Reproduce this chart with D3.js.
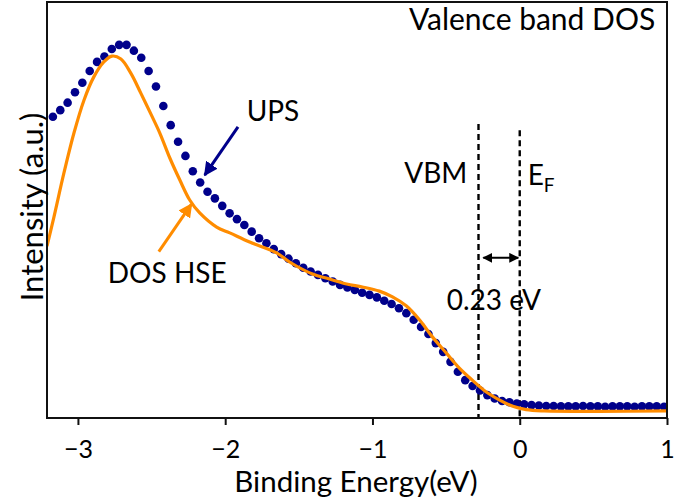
<!DOCTYPE html>
<html>
<head>
<meta charset="utf-8">
<script src="https://cdn.jsdelivr.net/npm/d3@7"></script>
<style>
  html, body { margin: 0; padding: 0; background: #fff; }
  svg { display: block; font-family: Lato, "Open Sans", sans-serif; }
</style>
</head>
<body>
<svg id="chart" width="675" height="501"></svg>
<script>
// ---------- DATA ----------
// UPS measured points: binding energy (eV), starting value and step
const upsStart = -3.17;
const upsStep = 0.05;
const upsIntensity = [
  72.4, 74.0, 75.8, 78.3, 80.6, 83.4, 85.6, 86.9, 88.7, 89.7,
  89.7, 88.3, 86.6, 83.4, 79.7, 75.0, 70.4, 66.4, 63.0, 59.3,
  56.6, 54.4, 52.8, 51.0, 49.2, 47.8, 46.4, 44.8, 43.2, 42.0,
  40.6, 39.4, 38.3, 37.2, 36.1, 35.2, 34.4, 33.6, 32.8, 32.0,
  31.4, 30.8, 30.1, 29.6, 29.0, 28.2, 27.4, 26.4, 25.2, 23.6,
  21.9, 20.2, 18.0, 15.9, 13.5, 11.1, 9.1, 7.7, 6.6, 5.5,
  4.7, 4.1, 3.8, 3.5, 3.3, 3.1, 3.0, 2.9, 2.9, 2.8,
  2.8, 2.8, 2.9, 2.8, 2.8, 2.7, 2.8, 2.8, 2.8, 2.7,
  2.8, 2.8, 2.8, 2.7
];
const upsEnergy = upsIntensity.map((_, i) => +(upsStart + i * upsStep).toFixed(2));

// DOS HSE calculated curve
const dosEnergy = [
  -3.21, -3.163, -3.095, -3.027, -2.959, -2.892, -2.824, -2.769, -2.708, -2.641,
  -2.573, -2.505, -2.444, -2.376, -2.308, -2.241, -2.173, -2.058, -1.969, -1.834,
  -1.651, -1.563, -1.407, -1.292, -1.176, -1.068, -0.953, -0.864, -0.769, -0.681,
  -0.593, -0.498, -0.410, -0.322, -0.227, -0.136, -0.047, 0.044, 0.166, 0.539, 1.0
];
const dosIntensity = [
  41.3, 48.3, 58.9, 68.5, 76.4, 82.0, 85.6, 87.0, 86.3, 82.9,
  78.1, 73.1, 68.5, 62.5, 57.2, 52.4, 49.3, 45.9, 44.5, 42.3,
  39.7, 37.5, 34.6, 33.4, 32.2, 31.5, 30.5, 29.1, 26.9, 23.6,
  19.5, 15.6, 12.0, 9.1, 6.25, 4.3, 2.8, 2.0, 1.7, 1.6, 1.7
];

const xTicks = [-3, -2, -1, 0, 1];
const xDomain = [-3.21, 1.0];
const yDomain = [0, 100];
const vbmEnergy = -0.28;
const efEnergy = 0;
const gapLabel = "0.23 eV";

// ---------- LAYOUT ----------
const W = 675, H = 501;
const m = { left: 47, right: 8, top: 2, bottom: 83 };
const svg = d3.select("#chart");
const x = d3.scaleLinear().domain(xDomain).range([m.left, W - m.right]);
const y = d3.scaleLinear().domain(yDomain).range([H - m.bottom, m.top]);

const navy = "#00008B";
const orange = "#FF8C00";

svg.append("defs").append("clipPath").attr("id", "clip")
  .append("rect").attr("x", m.left).attr("y", m.top)
  .attr("width", W - m.left - m.right).attr("height", H - m.top - m.bottom);

const defs = svg.select("defs");
function marker(id, color, w, h) {
  defs.append("marker").attr("id", id)
    .attr("viewBox", "0 0 10 10").attr("refX", 9).attr("refY", 5)
    .attr("markerWidth", w).attr("markerHeight", h)
    .attr("markerUnits", "userSpaceOnUse")
    .attr("orient", "auto-start-reverse")
    .append("path").attr("d", "M0,0 L10,5 L0,10 Z").attr("fill", color);
}
marker("arrNavy", navy, 14, 14);
marker("arrOrange", orange, 14, 14);
marker("arrBlack", "#000", 10, 10);

const plot = svg.append("g").attr("clip-path", "url(#clip)");

// dashed lines
[[vbmEnergy, 70.7], [efEnergy, 69.2]].forEach(([e, top]) => {
  plot.append("line")
    .attr("x1", x(e)).attr("x2", x(e))
    .attr("y1", y(top)).attr("y2", y(0))
    .attr("stroke", "#000").attr("stroke-width", 2.4)
    .attr("stroke-dasharray", "6,4");
});

// UPS dots
plot.selectAll("circle.ups").data(upsEnergy).join("circle")
  .attr("class", "ups")
  .attr("cx", (d) => x(d))
  .attr("cy", (d, i) => y(upsIntensity[i]))
  .attr("r", 4.3)
  .attr("fill", navy);

// DOS line
const line = d3.line().x((d) => x(d[0])).y((d) => y(d[1])).curve(d3.curveCatmullRom.alpha(0.5));
plot.append("path")
  .datum(dosEnergy.map((e, i) => [e, dosIntensity[i]]))
  .attr("d", line)
  .attr("fill", "none").attr("stroke", orange).attr("stroke-width", 3.2);

// frame
svg.append("rect")
  .attr("x", m.left).attr("y", m.top)
  .attr("width", W - m.left - m.right).attr("height", H - m.top - m.bottom)
  .attr("fill", "none").attr("stroke", "#111").attr("stroke-width", 2);

// x axis
const xAxis = svg.append("g")
  .attr("transform", `translate(0,${H - m.bottom})`)
  .call(d3.axisBottom(x).tickValues(xTicks).tickSize(7).tickPadding(15)
    .tickFormat((d) => d3.format("d")(d).replace("-", "\u2212")));
xAxis.select(".domain").remove();
xAxis.selectAll(".tick line").attr("stroke", "#111").attr("stroke-width", 2);
xAxis.selectAll(".tick text").attr("font-size", 25).attr("fill", "#000")
  .attr("font-family", "Lato, sans-serif");

// axis titles
svg.append("text")
  .attr("x", 356).attr("y", 492)
  .attr("text-anchor", "middle").attr("font-size", 29.5)
  .text("Binding Energy(eV)");
svg.append("text")
  .attr("transform", `translate(43,207) rotate(-90)`)
  .attr("text-anchor", "middle").attr("font-size", 31)
  .text("Intensity (a.u.)");

// annotations
svg.append("text").attr("x", x(0.92)).attr("y", y(93.3))
  .attr("text-anchor", "end").attr("font-size", 30).text("Valence band DOS");

svg.append("text").attr("x", x(-1.854)).attr("y", y(71.4))
  .attr("font-size", 28).text("UPS");
svg.append("line")
  .attr("x1", x(-1.913)).attr("y1", y(70.0))
  .attr("x2", x(-2.139)).attr("y2", y(58.4))
  .attr("stroke", navy).attr("stroke-width", 3)
  .attr("marker-end", "url(#arrNavy)");

svg.append("text").attr("x", x(-2.797)).attr("y", y(32.5))
  .attr("font-size", 28).text("DOS HSE");
svg.append("line")
  .attr("x1", x(-2.451)).attr("y1", y(40.0))
  .attr("x2", x(-2.229)).attr("y2", y(51.4))
  .attr("stroke", orange).attr("stroke-width", 3)
  .attr("marker-end", "url(#arrOrange)");

svg.append("text").attr("x", x(-0.356)).attr("y", y(56.5))
  .attr("text-anchor", "end").attr("font-size", 28).text("VBM");

const ef = svg.append("text").attr("x", x(0.054)).attr("y", y(56.0)).attr("font-size", 28);
ef.append("tspan").text("E");
ef.append("tspan").attr("font-size", 19).attr("dy", 7).text("F");

svg.append("line")
  .attr("x1", x(-0.247)).attr("x2", x(-0.01))
  .attr("y1", y(38.5)).attr("y2", y(38.5))
  .attr("stroke", "#000").attr("stroke-width", 2)
  .attr("marker-start", "url(#arrBlack)")
  .attr("marker-end", "url(#arrBlack)");
svg.append("text").attr("x", x(-0.176)).attr("y", y(26.0))
  .attr("text-anchor", "middle").attr("font-size", 28).text(gapLabel);
</script>
</body>
</html>
